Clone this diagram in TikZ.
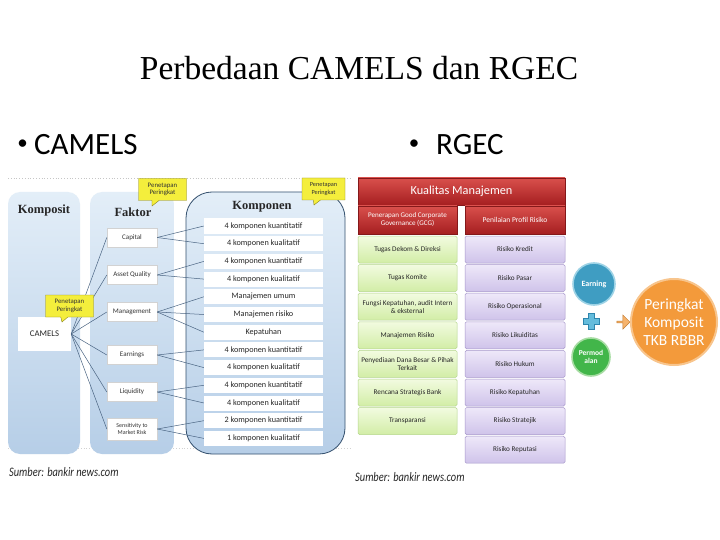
\documentclass[tikz,border=0pt]{standalone}
\usepackage{fontspec}
\setmainfont{Carlito}
\newfontfamily\seriffont{Liberation Serif}
\usetikzlibrary{shapes.callouts,shapes.arrows}
\definecolor{colTop}{HTML}{E3EEF8}
\definecolor{colBot}{HTML}{B6CEE7}
\definecolor{komBorder}{HTML}{34506E}
\definecolor{linkc}{HTML}{4A6482}
\definecolor{yellowc}{HTML}{F4EE3C}
\definecolor{yellowB}{HTML}{8A8420}
\definecolor{redTop}{HTML}{D9504C}
\definecolor{redBot}{HTML}{A51E20}
\definecolor{greenTop}{HTML}{F2FBE0}
\definecolor{greenBot}{HTML}{D2EDA6}
\definecolor{greenB}{HTML}{B4D68C}
\definecolor{purpTop}{HTML}{EEE8F9}
\definecolor{purpBot}{HTML}{CFC3EA}
\definecolor{purpB}{HTML}{A797CB}
\definecolor{earnc}{HTML}{3F9DC2}
\definecolor{earnB}{HTML}{9ED3E6}
\definecolor{modalc}{HTML}{42B64A}
\definecolor{modalB}{HTML}{A6DCA2}
\definecolor{orangec}{HTML}{F39A3B}
\definecolor{orangeB}{HTML}{F8C58D}
\definecolor{plusc}{HTML}{64BCDC}
\definecolor{plusB}{HTML}{2E86AE}
\begin{document}
\begin{tikzpicture}[x=1pt,y=-1pt,
  colbox/.style={draw=none, rounded corners=12, top color=colTop, bottom color=colBot, inner sep=0},
  hdr/.style={font=\seriffont\bfseries\fontsize{12.5}{14}\selectfont, text=black!85},
  fbox/.style={draw=gray!35, fill=white, minimum width=50, minimum height=19, inner sep=1, align=center, font=\fontsize{7}{8}\selectfont, text=black!80},
  krow/.style={fill=white, minimum width=119, minimum height=15, inner sep=0, font=\fontsize{8.2}{9}\selectfont, text=black!85},
  link/.style={draw=linkc, line width=0.5pt},
  callbox/.style={rectangle callout, fill=yellowc, draw=yellowB, line width=0.4pt, minimum width=48, minimum height=22, inner sep=0, align=center, font=\fontsize{6.8}{7.6}\selectfont, text=black!80},
  redbox/.style={draw=redBot!80!black, line width=0.3pt, top color=redTop, bottom color=redBot, text=white, align=center, inner sep=1},
  greenbox/.style={draw=greenB, line width=0.5pt, top color=greenTop, bottom color=greenBot, rounded corners=1.5, minimum width=99, minimum height=27, inner sep=1, align=center, font=\fontsize{7.2}{8}\selectfont, text=black!85},
  purpbox/.style={draw=purpB, line width=0.5pt, top color=purpTop, bottom color=purpBot, rounded corners=1.5, minimum width=100, minimum height=27, inner sep=1, align=center, font=\fontsize{7.2}{8}\selectfont, text=black!85},
  srcnote/.style={anchor=west, inner sep=0, font=\itshape\fontsize{13}{14}\selectfont, text=black!85},
  bigtext/.style={anchor=west, inner sep=0, font=\fontsize{31}{36}\selectfont},
  bul/.style={inner sep=0, font=\fontsize{21}{24}\selectfont}
]
\useasboundingbox (0,0) rectangle (720,540);
\fill[white] (0,0) rectangle (720,540);

% title and bullets
\node[font=\seriffont\fontsize{33.5}{38}\selectfont] (title) at (359,68) {Perbedaan CAMELS dan RGEC};
\node[bul] (bul1) at (22.5,145) {•};
\node[bigtext] (b1) at (34,145) {CAMELS};
\node[bul] (bul2) at (414,145) {•};
\node[bigtext] (b2) at (436,145) {RGEC};

% ---------------- CAMELS diagram ----------------
\draw[gray!45, dotted, line width=0.8pt] (8,178) -- (352,178);
\draw[gray!35, dotted, line width=0.8pt] (8,448) -- (352,448);

\node[colbox, minimum width=72, minimum height=262] (kompcol) at (44,323) {};
\node[colbox, minimum width=84, minimum height=262] (faktcol) at (132,323) {};
\node[colbox, draw=komBorder, line width=0.8pt, rounded corners=26, minimum width=159, minimum height=262] (komcol) at (265.5,323) {};

\node[hdr] (hkomposit) at (44,210) {Komposit};
\node[hdr] (hfaktor) at (133,212) {Faktor};
\node[hdr] (hkomponen) at (262,207) {Komponen};

\node[fill=white, minimum width=53, minimum height=34, inner sep=0, font=\fontsize{8.7}{9.5}\selectfont, text=black!85] (camels) at (44.5,334) {CAMELS};

\node[fbox] (cap) at (132,237.5) {Capital};
\node[fbox] (aq) at (132,275) {Asset Quality};
\node[fbox] (man) at (132,312) {Management};
\node[fbox] (earn) at (132,355) {Earnings};
\node[fbox] (liq) at (132,392) {Liquidity};
\node[fbox, minimum height=22, font=\fontsize{6}{7}\selectfont] (sens) at (132,429) {Sensitivity to\\Market Risk};

\foreach \t [count=\i] in {4 komponen kuantitatif, 4 komponen kualitatif, 4 komponen kuantitatif, 4 komponen kualitatif, Manajemen umum, Manajemen risiko, Kepatuhan, 4 komponen kuantitatif, 4 komponen kualitatif, 4 komponen kuantitatif, 4 komponen kualitatif, 2 komponen kuantitatif, 1 komponen kualitatif}
  \node[krow] (k\i) at (263.5,{226+(\i-1)*17.7}) {\t};

\foreach \f in {cap,aq,man,earn,liq,sens}
  \draw[link] (camels.east) -- (\f.west);
\foreach \f/\k in {cap/1,cap/2,aq/3,aq/4,man/5,man/6,man/7,earn/8,earn/9,liq/10,liq/11,sens/12,sens/13}
  \draw[link] (\f.east) -- (k\k.west);

\node[callbox, callout absolute pointer={(152,206)}] (call1) at (162.5,189.5) {Penetapan\\Peringkat};
\node[callbox, minimum width=43, font=\fontsize{6.3}{7.2}\selectfont, callout absolute pointer={(314,205)}] (call2) at (323.5,189) {Penetapan\\Peringkat};
\node[callbox, callout absolute pointer={(62,322)}] (call3) at (69.5,306) {Penetapan\\Peringkat};

\node[srcnote] (src1) at (9,472) {\scalebox{0.8}[1]{Sumber: bankir news.com}};

% ---------------- RGEC diagram ----------------
\node[redbox, minimum width=207, minimum height=27, font=\fontsize{12.3}{14}\selectfont] (kualitas) at (461.5,191.5) {Kualitas Manajemen};
\node[redbox, minimum width=99, minimum height=28, font=\fontsize{7.1}{8}\selectfont] (gcg) at (407.5,220) {Penerapan Good Corporate\\Governance (GCG)};
\node[redbox, minimum width=100, minimum height=28, font=\fontsize{7.5}{8.5}\selectfont] (profil) at (515,220) {Penilaian Profil Risiko};

\foreach \t [count=\i] in {Tugas Dekom \& Direksi, Tugas Komite, {Fungsi Kepatuhan, audit Intern\\\& eksternal}, Manajemen Risiko, {Penyediaan Dana Besar \& Pihak\\Terkait}, Rencana Strategis Bank, Transparansi}
  \node[greenbox] (g\i) at (407.5,{249.5+(\i-1)*28.6}) {\t};

\foreach \t [count=\i] in {Risiko Kredit, Risiko Pasar, Risiko Operasional, Risiko Likuiditas, Risiko Hukum, Risiko Kepatuhan, Risiko Stratejik, Risiko Reputasi}
  \node[purpbox] (r\i) at (515,{249.5+(\i-1)*28.6}) {\t};

\node[circle, fill=earnc, draw=earnB, line width=1.6pt, minimum size=42, inner sep=0, text=white, font=\bfseries\fontsize{8}{9}\selectfont] (earning) at (594,284) {Earning};
\filldraw[fill=plusc, draw=plusB, line width=0.6pt] (588,313) -- (594,313) -- (594,318) -- (599,318) -- (599,324) -- (594,324) -- (594,329) -- (588,329) -- (588,324) -- (583,324) -- (583,318) -- (588,318) -- cycle;
\node[circle, fill=modalc, draw=modalB, line width=1.6pt, minimum size=38, inner sep=0, align=center, text=white, font=\bfseries\fontsize{7.5}{8}\selectfont] (modal) at (591,357) {Permod\\alan};
\node[single arrow, fill=orangec!75!white, draw=orangec!80!black, line width=0.5pt, minimum height=13, minimum width=14, single arrow head extend=2, inner sep=0] (arr) at (623,322) {};
\node[circle, fill=orangec, draw=orangeB, line width=2pt, minimum size=86, inner sep=0, align=center, text=white, font=\fontsize{15.5}{18}\selectfont] (tkb) at (674,322) {Peringkat\\Komposit\\TKB RBBR};

\node[srcnote] (src2) at (355,477) {\scalebox{0.8}[1]{Sumber: bankir news.com}};
\end{tikzpicture}
\end{document}
